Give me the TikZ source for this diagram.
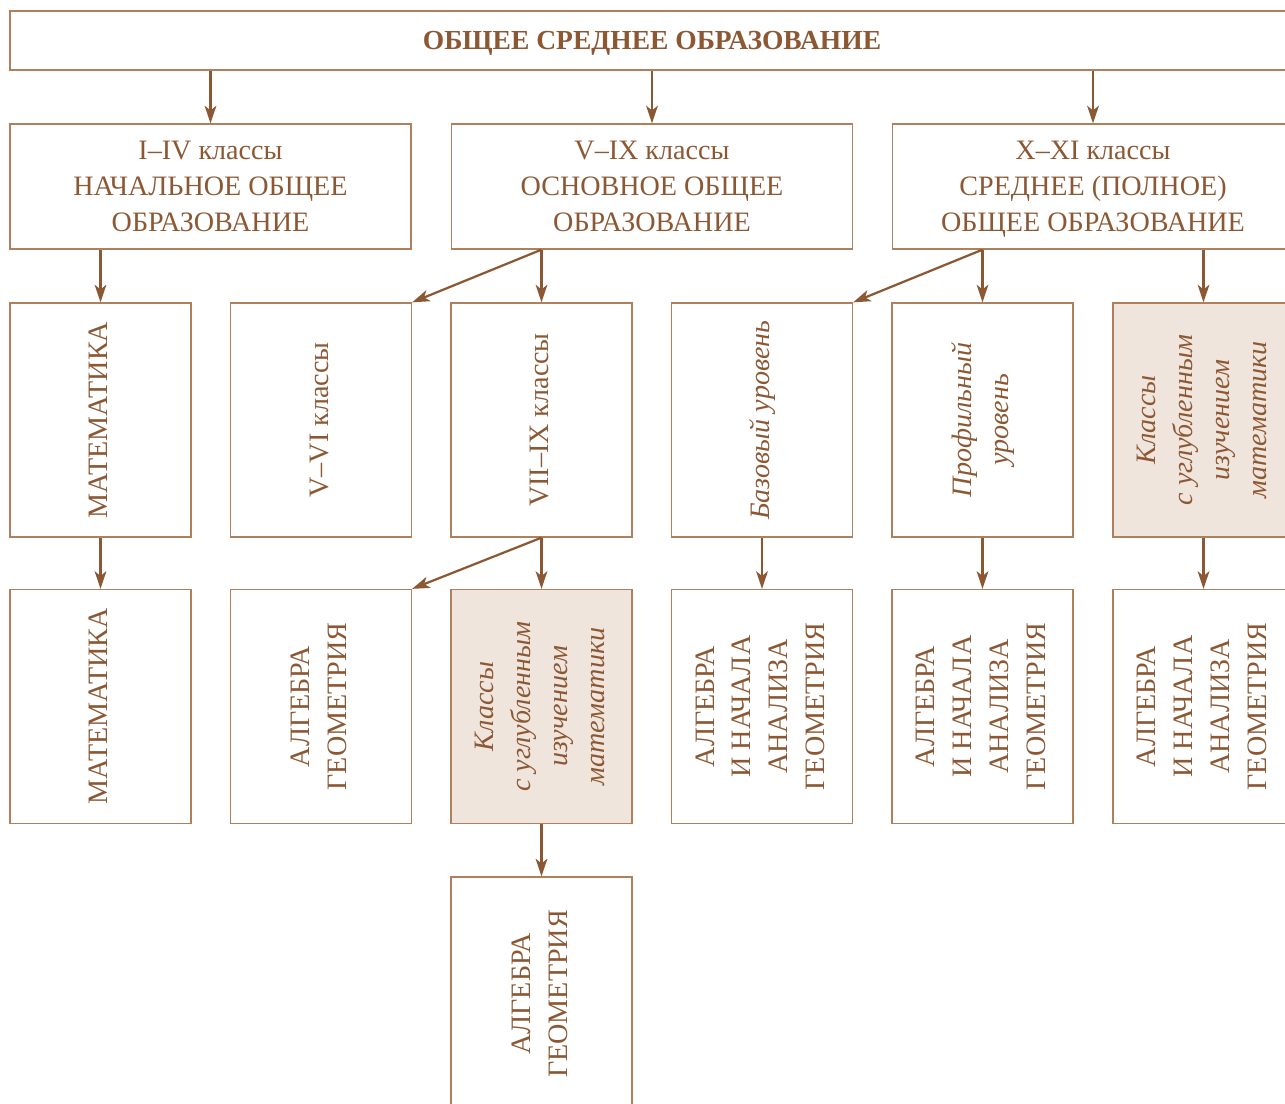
\documentclass[tikz,border=0pt]{standalone}
\usepackage{fontspec}
\setmainfont{Liberation Serif}
\usetikzlibrary{arrows.meta}

\definecolor{brn}{HTML}{8C5834}
\definecolor{frm}{HTML}{B0805C}
\definecolor{shd}{HTML}{EFE5DC}
\newcommand{\vtext}[2][]{\rotatebox{90}{#1\begin{tabular}{@{}c@{}}#2\end{tabular}}}

\begin{document}
\begin{tikzpicture}[x=0.03cm,y=-0.03cm,
        box/.style={draw=frm,line width=1.1pt,text=brn,align=center,inner sep=0pt,font=\fontsize{24}{30.7}\selectfont},
        wide/.style={box,minimum width=12.03cm,minimum height=3.75cm,text depth=-3pt},
        col/.style={box,minimum width=5.43cm,minimum height=7.02cm,font=\fontsize{24}{31.5}\selectfont},
        deep/.style={col,fill=shd},
        arr/.style={draw=brn,line width=1.9pt,-{Stealth[length=15pt,width=10pt,inset=4pt]}}]

        \useasboundingbox (0,0) rectangle (1285,1104);
        \clip (0,0) rectangle (1285,1104);

        \node[box,minimum width=38.52cm,minimum height=1.77cm,text height=15.5pt,text depth=0pt,font=\fontsize{23.5}{25}\selectfont\bfseries] (top) at (652,40.5) {ОБЩЕЕ СРЕДНЕЕ ОБРАЗОВАНИЕ};

        \node[wide] (b1) at (210.5,186.5) {I–IV классы\\НАЧАЛЬНОЕ ОБЩЕЕ\\ОБРАЗОВАНИЕ};
        \node[wide] (b2) at (652,186.5) {V–IX классы\\ОСНОВНОЕ ОБЩЕЕ\\ОБРАЗОВАНИЕ};
        \node[wide] (b3) at (1093,186.5) {X–XI классы\\СРЕДНЕЕ (ПОЛНОЕ)\\ОБЩЕЕ ОБРАЗОВАНИЕ};

        \node[col] (m1) at (100.5,420) {\vtext{МАТЕМАТИКА}};
        \node[col] (m2) at (321,420) {\vtext{V–VI классы}};
        \node[col] (m3) at (541.5,420) {\vtext{VII–IX классы}};
        \node[col] (m4) at (762,420) {\vtext[\itshape]{Базовый уровень}};
        \node[col] (m5) at (982.5,420) {\vtext[\itshape]{Профильный\\уровень}};
        \node[deep] (m6) at (1203.5,420) {\vtext[\itshape]{Классы\\с углубленным\\изучением\\математики}};

        \node[col] (n1) at (100.5,706.5) {\vtext{МАТЕМАТИКА}};
        \node[col] (n2) at (321,706.5) {\vtext{АЛГЕБРА\\ГЕОМЕТРИЯ}};
        \node[deep] (n3) at (541.5,706.5) {\vtext[\itshape]{Классы\\с углубленным\\изучением\\математики}};
        \node[col] (n4) at (762,706.5) {\vtext{АЛГЕБРА\\И НАЧАЛА\\АНАЛИЗА\\ГЕОМЕТРИЯ}};
        \node[col] (n5) at (982.5,706.5) {\vtext{АЛГЕБРА\\И НАЧАЛА\\АНАЛИЗА\\ГЕОМЕТРИЯ}};
        \node[col] (n6) at (1203.5,706.5) {\vtext{АЛГЕБРА\\И НАЧАЛА\\АНАЛИЗА\\ГЕОМЕТРИЯ}};

        \node[col] (p3) at (541.5,994) {\vtext{АЛГЕБРА\\ГЕОМЕТРИЯ}};

        % arrows
        \draw[arr] (top.south -| b1.north) -- (b1.north);
        \draw[arr] (top.south -| b2.north) -- (b2.north);
        \draw[arr] (top.south -| b3.north) -- (b3.north);

        \draw[arr] (b1.south -| m1.north) -- (m1.north);
        \draw[arr] (b2.south -| m3.north) -- (m2.north east);
        \draw[arr] (b2.south -| m3.north) -- (m3.north);
        \draw[arr] (b3.south -| m5.north) -- (m4.north east);
        \draw[arr] (b3.south -| m5.north) -- (m5.north);
        \draw[arr] (b3.south -| m6.north) -- (m6.north);

        \draw[arr] (m1.south) -- (n1.north);
        \draw[arr] (m3.south) -- (n2.north east);
        \draw[arr] (m3.south) -- (n3.north);
        \draw[arr] (m4.south) -- (n4.north);
        \draw[arr] (m5.south) -- (n5.north);
        \draw[arr] (m6.south) -- (n6.north);

        \draw[arr] (n3.south) -- (p3.north);
\end{tikzpicture}
\end{document}
